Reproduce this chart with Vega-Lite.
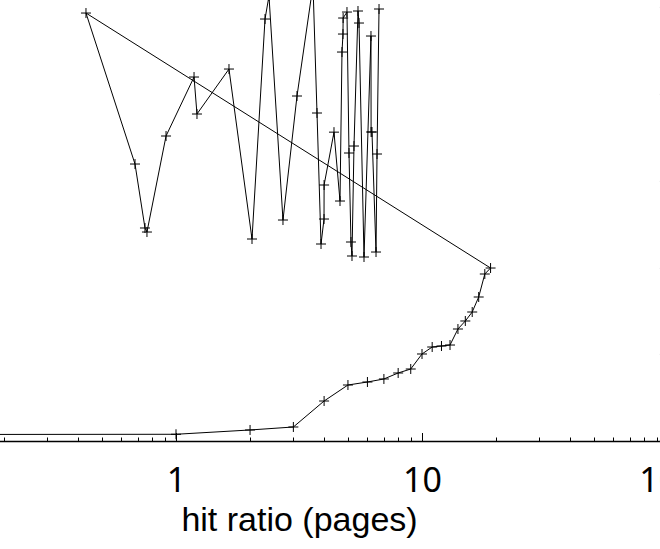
{
  "$schema": "https://vega.github.io/schema/vega-lite/v6.json",
  "autosize": "none",
  "width": 738,
  "height": 477.1,
  "padding": {"left": -70, "right": -8, "top": -36.1, "bottom": 108},
  "background": "white",
  "config": {"view": {"stroke": null}, "font": "Liberation Sans"},
  "data": {"values": [
    {"i": 0, "x": 0.1, "y": 1.5},
    {"i": 1, "x": 1, "y": 1.55},
    {"i": 2, "x": 2, "y": 2.54},
    {"i": 3, "x": 3, "y": 3.23},
    {"i": 4, "x": 4, "y": 9.22},
    {"i": 5, "x": 5, "y": 12.91},
    {"i": 6, "x": 6, "y": 13.6},
    {"i": 7, "x": 7, "y": 14.3},
    {"i": 8, "x": 8, "y": 15.68},
    {"i": 9, "x": 9, "y": 16.6},
    {"i": 10, "x": 10, "y": 20.06},
    {"i": 11, "x": 11, "y": 21.67},
    {"i": 12, "x": 12, "y": 21.9},
    {"i": 13, "x": 13, "y": 22.13},
    {"i": 14, "x": 14, "y": 25.82},
    {"i": 15, "x": 15, "y": 27.67},
    {"i": 16, "x": 16, "y": 29.74},
    {"i": 17, "x": 17, "y": 33.2},
    {"i": 18, "x": 18, "y": 38.5},
    {"i": 19, "x": 19, "y": 39.88},
    {"i": 20, "x": 0.4306, "y": 98.67},
    {"i": 21, "x": 0.6813, "y": 63.86},
    {"i": 22, "x": 0.748, "y": 49.11},
    {"i": 23, "x": 0.762, "y": 48.18},
    {"i": 24, "x": 0.911, "y": 70.32},
    {"i": 25, "x": 1.184, "y": 83.92},
    {"i": 26, "x": 1.217, "y": 75.39},
    {"i": 27, "x": 1.642, "y": 85.76},
    {"i": 28, "x": 2.037, "y": 46.57},
    {"i": 29, "x": 2.301, "y": 97.29},
    {"i": 30, "x": 2.388, "y": 102.6},
    {"i": 31, "x": 2.722, "y": 50.95},
    {"i": 32, "x": 3.104, "y": 79.54},
    {"i": 33, "x": 3.605, "y": 105.1},
    {"i": 34, "x": 3.743, "y": 75.62},
    {"i": 35, "x": 3.886, "y": 45.42},
    {"i": 36, "x": 3.997, "y": 51.18},
    {"i": 37, "x": 4.0, "y": 59.02},
    {"i": 38, "x": 4.388, "y": 71.21},
    {"i": 39, "x": 4.642, "y": 55.33},
    {"i": 40, "x": 4.729, "y": 89.68},
    {"i": 41, "x": 4.773, "y": 93.83},
    {"i": 42, "x": 4.78, "y": 97.52},
    {"i": 43, "x": 4.955, "y": 98.9},
    {"i": 44, "x": 5.049, "y": 66.4},
    {"i": 45, "x": 5.144, "y": 45.88},
    {"i": 46, "x": 5.193, "y": 42.65},
    {"i": 47, "x": 5.291, "y": 68.01},
    {"i": 48, "x": 5.493, "y": 99.14},
    {"i": 49, "x": 5.545, "y": 96.37},
    {"i": 50, "x": 5.811, "y": 42.42},
    {"i": 51, "x": 6.203, "y": 93.37},
    {"i": 52, "x": 6.21, "y": 71.24},
    {"i": 53, "x": 6.261, "y": 71.24},
    {"i": 54, "x": 6.503, "y": 43.57},
    {"i": 55, "x": 6.564, "y": 66.17},
    {"i": 56, "x": 6.688, "y": 99.6}
  ]},
  "encoding": {
    "x": {
      "field": "x", "type": "quantitative",
      "scale": {"type": "log", "domain": [0.1, 100], "nice": false},
      "axis": {
        "title": "hit ratio (pages)",
        "titleFont": "Liberation Sans", "titleFontSize": 34, "titleFontWeight": "normal", "titleColor": "black",
        "titleBaseline": "alphabetic", "titleY": 89,
        "values": [0.1,0.2,0.3,0.4,0.5,0.6,0.7,0.8,0.9,1,2,3,4,5,6,7,8,9,10,20,30,40,50,60,70,80,90,100],
        "labelExpr": "datum.value == 1 || datum.value == 10 || datum.value == 100 ? format(datum.value, 'd') : ''",
        "labelFont": "Noto Sans", "labelFontSize": 34, "labelColor": "black",
        "labelBaseline": "alphabetic", "labelPadding": 59,
        "labelFlush": false, "labelOverlap": false, "labelBound": false,
        "tickSize": {"condition": {"test": "datum.value == 0.1 || datum.value == 1 || datum.value == 10 || datum.value == 100", "value": -8.5}, "value": -4},
        "tickColor": "black", "tickWidth": 1,
        "domainColor": "black", "domainWidth": 1.5,
        "grid": false
      }
    },
    "y": {
      "field": "y", "type": "quantitative",
      "scale": {"domain": [0, 110], "nice": false, "zero": false},
      "axis": {
        "orient": "right", "title": null, "labels": false, "domain": false, "grid": false,
        "values": [0, 20, 40, 60, 80, 100],
        "tickSize": -8.6, "tickColor": "#888", "tickWidth": 1
      }
    }
  },
  "layer": [
    {
      "mark": {"type": "line", "color": "black", "strokeWidth": 1},
      "encoding": {"order": {"field": "i", "type": "quantitative"}}
    },
    {
      "mark": {"type": "point", "shape": "M-1,0H1M0,-1V1", "size": 100, "filled": false, "stroke": "black", "strokeWidth": 1, "opacity": 1}
    }
  ]
}
